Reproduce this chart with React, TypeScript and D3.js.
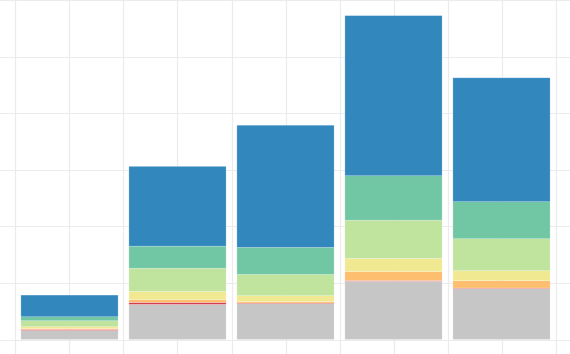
import { useMemo } from 'react';
import * as d3 from 'd3';

const categories = ['A', 'B', 'C', 'D', 'E'];
const seriesKeys = ['gray', 'red', 'orange', 'yellow', 'lightgreen', 'teal', 'blue'];
const grayValues = [1.6, 6.2, 6.35, 10.3, 9.0];
const redValues = [0.18, 0.35, 0.1, 0.12, 0.09];
const orangeValues = [0.18, 0.48, 0.23, 1.6, 1.3];
const yellowValues = [0.3, 1.47, 1.06, 2.3, 1.77];
const lightgreenValues = [1.06, 4.1, 3.76, 6.77, 5.65];
const tealValues = [0.7, 3.9, 4.77, 7.85, 6.54];
const blueValues = [3.83, 14.1, 21.6, 28.3, 21.9];
const yTicks = [-1, 0, 10, 20, 30, 40, 50, 60];

const colors: Record<string, string> = {
  gray: '#c6c6c6',
  red: '#d53e4f',
  orange: '#fdbe6f',
  yellow: '#f1e892',
  lightgreen: '#c0e49e',
  teal: '#71c6a4',
  blue: '#3288bd',
};

const width = 570;
const height = 354;

export default function App(): JSX.Element {
  const rows = useMemo(
    () =>
      categories.map((c, i) => ({
        cat: c,
        gray: grayValues[i],
        red: redValues[i],
        orange: orangeValues[i],
        yellow: yellowValues[i],
        lightgreen: lightgreenValues[i],
        teal: tealValues[i],
        blue: blueValues[i],
      })),
    [],
  );

  const stacked = d3.stack<any>().keys(seriesKeys)(rows);

  const x = d3.scaleBand().domain(categories).range([15.5, 555.5]).paddingInner(0.1).paddingOuter(0.05);
  const y = d3.scaleLinear().domain([0, 60]).range([339.5, 0]);

  // vertical grid: band centres and band edges
  const step = x.step();
  const vLines: number[] = [];
  categories.forEach((c) => {
    const cx = (x(c) ?? 0) + x.bandwidth() / 2;
    vLines.push(cx - step / 2, cx);
  });
  vLines.push(vLines[vLines.length - 1] + step / 2);

  return (
    <svg
      width={width}
      height={height}
      style={{ position: 'absolute', left: 0, top: 0, background: '#fff' }}
    >
      <g>
        {yTicks
          .filter((t) => t >= 0)
          .map((t) => (
            <line key={t} x1={0} x2={width} y1={Math.round(y(t)) + 0.5} y2={Math.round(y(t)) + 0.5} stroke="#ebebeb" strokeWidth={1.2} />
          ))}
        {vLines.map((v, i) => (
          <line key={i} x1={Math.round(v) + 0.5} x2={Math.round(v) + 0.5} y1={0} y2={height} stroke="#ebebeb" strokeWidth={1.2} />
        ))}
      </g>
      <g>
        {stacked.map((layer) => (
          <g key={layer.key} fill={colors[layer.key]}>
            {layer.map((d, i) => (
              <rect
                key={i}
                x={x(categories[i])}
                width={x.bandwidth()}
                y={y(d[1])}
                height={Math.max(0, y(d[0]) - y(d[1]))}
                stroke="#ffffff"
                strokeOpacity={0.35}
                strokeWidth={0.6}
              />
            ))}
          </g>
        ))}
      </g>
    </svg>
  );
}
